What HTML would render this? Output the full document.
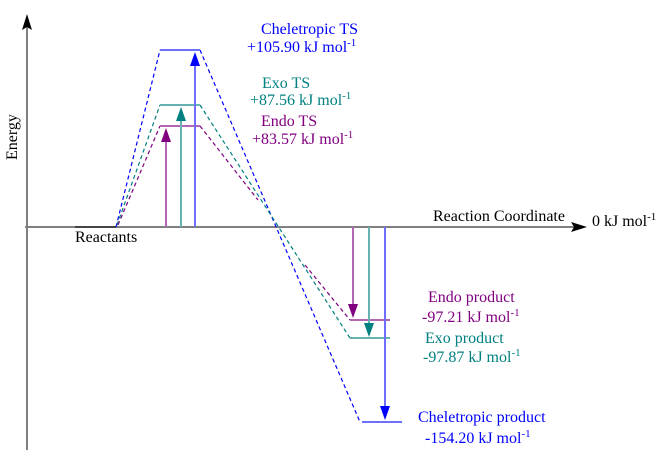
<!DOCTYPE html>
<html><head><meta charset="utf-8"><style>
html,body{margin:0;padding:0;background:#fff;}
svg{display:block;}
text{font-family:"Liberation Serif",serif;font-size:16px;}
</style></head><body>
<svg width="664" height="466" viewBox="0 0 664 466" xmlns="http://www.w3.org/2000/svg">
<!-- axes -->
<line x1="27" y1="450" x2="27" y2="24" stroke="#808080" stroke-width="2"/>
<path d="M27,14 L22,30 L27,27 L32,30 Z" fill="#000"/>
<line x1="25" y1="227" x2="575" y2="227" stroke="#808080" stroke-width="2"/>
<path d="M587,227 L571,222 L574,227 L571,232 Z" fill="#000"/>
<line x1="75" y1="227" x2="116" y2="227" stroke="#444" stroke-width="2"/>
<text x="75" y="242">Reactants</text>
<text x="433" y="221">Reaction Coordinate</text>
<text x="592" y="226">0 kJ mol<tspan font-size="11" dy="-6">-1</tspan></text>
<text transform="translate(17,160) rotate(-90)">Energy</text>

<!-- dashed pathways -->
<g fill="none" stroke-dasharray="4,3" stroke-width="1.2">
<path d="M116,227 L160,50" stroke="#0000ff"/>
<path d="M200,50 L360,422" stroke="#0000ff"/>
<path d="M117,225 L160,105" stroke="#008080"/>
<path d="M200,105 L350,338" stroke="#008080"/>
<path d="M118,225 L160,126" stroke="#800080"/>
<path d="M200,126 L258,200" stroke="#800080"/>
<path d="M305,265 L350,320" stroke="#800080"/>
</g>
<!-- plateaus -->
<line x1="160" y1="50" x2="200" y2="50" stroke="#6f6fff" stroke-width="2"/>
<line x1="160" y1="105" x2="200" y2="105" stroke="#66b2b2" stroke-width="2"/>
<line x1="160" y1="126" x2="200" y2="126" stroke="#b366b3" stroke-width="2"/>
<line x1="350" y1="320" x2="390" y2="320" stroke="#b366b3" stroke-width="2"/>
<line x1="350" y1="338" x2="390" y2="338" stroke="#66b2b2" stroke-width="2"/>
<line x1="362" y1="422" x2="402" y2="422" stroke="#6f6fff" stroke-width="2"/>

<!-- arrows -->
<line x1="166" y1="227" x2="166" y2="140" stroke="#b366b3" stroke-width="2"/>
<path d="M166,128 L161,142 L171,142 Z" fill="#800080"/>
<line x1="181" y1="227" x2="181" y2="119" stroke="#66b2b2" stroke-width="2"/>
<path d="M181,107 L176,121 L186,121 Z" fill="#008080"/>
<line x1="195" y1="227" x2="195" y2="64" stroke="#6f6fff" stroke-width="2"/>
<path d="M195,52 L190,66 L200,66 Z" fill="#0000ff"/>

<line x1="353" y1="227" x2="353" y2="306" stroke="#b366b3" stroke-width="2"/>
<path d="M353,318 L348,304 L358,304 Z" fill="#800080"/>
<line x1="369" y1="227" x2="369" y2="325" stroke="#66b2b2" stroke-width="2"/>
<path d="M369,337 L364,323 L374,323 Z" fill="#008080"/>
<line x1="385" y1="227" x2="385" y2="408" stroke="#6f6fff" stroke-width="2"/>
<path d="M385,420 L380,406 L390,406 Z" fill="#0000ff"/>

<!-- labels -->
<text x="261" y="34" fill="#0000ff">Cheletropic TS</text>
<text x="247" y="52" fill="#0000ff">+105.90 kJ mol<tspan font-size="11" dy="-6">-1</tspan></text>
<text x="262" y="88" fill="#008080">Exo TS</text>
<text x="250" y="105" fill="#008080">+87.56 kJ mol<tspan font-size="11" dy="-6">-1</tspan></text>
<text x="261" y="126" fill="#800080">Endo TS</text>
<text x="252" y="144" fill="#800080">+83.57 kJ mol<tspan font-size="11" dy="-6">-1</tspan></text>

<text x="428" y="302" fill="#800080">Endo product</text>
<text x="422" y="322" fill="#800080">-97.21 kJ mol<tspan font-size="11" dy="-6">-1</tspan></text>
<text x="425" y="343" fill="#008080">Exo product</text>
<text x="423" y="362" fill="#008080">-97.87 kJ mol<tspan font-size="11" dy="-6">-1</tspan></text>
<text x="418" y="422" fill="#0000ff">Cheletropic product</text>
<text x="425" y="443" fill="#0000ff">-154.20 kJ mol<tspan font-size="11" dy="-6">-1</tspan></text>
</svg>
</body></html>
